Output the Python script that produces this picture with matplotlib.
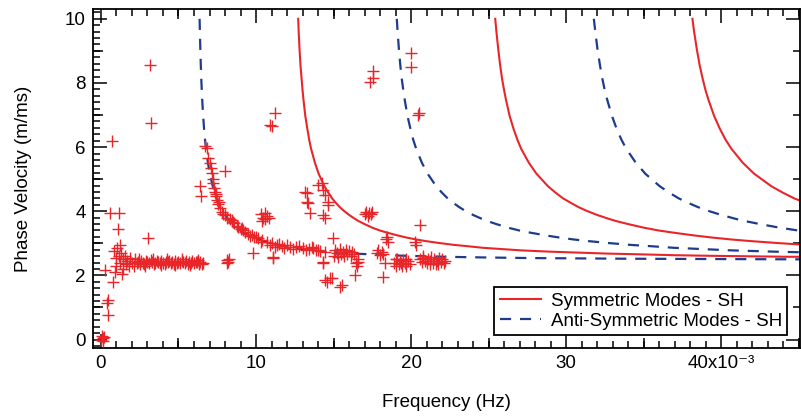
import numpy as np
import matplotlib
matplotlib.use("Agg")
import matplotlib.pyplot as plt
from matplotlib.ticker import MultipleLocator, FixedLocator, FuncFormatter, NullFormatter

plt.rcParams['font.family'] = ['Liberation Sans', 'DejaVu Sans']

# dispersion curves (frequency x1e-3, phase velocity m/ms)
anti1_f = [6.36, 6.38, 6.41, 6.44, 6.47, 6.50, 6.53, 6.59, 6.65, 6.71,
           6.78, 6.90, 7.02, 7.21, 7.33, 7.45, 7.58, 7.70, 7.82, 8.01,
           8.19, 8.32, 8.50, 8.75, 8.99, 9.24, 9.55, 9.86, 10.16, 10.47,
           10.90, 11.40, 11.83, 12.32, 12.94, 13.55, 14.48, 15.40, 16.32, 17.25,
           18.48, 19.71, 22.18, 24.64, 27.72, 33.88, 45.2]
anti1_v = [10.00, 9.62, 9.03, 8.54, 8.13, 7.78, 7.48, 6.97, 6.57, 6.23,
           5.95, 5.51, 5.17, 4.78, 4.58, 4.40, 4.26, 4.13, 4.02, 3.88,
           3.76, 3.69, 3.60, 3.49, 3.40, 3.33, 3.25, 3.18, 3.12, 3.07,
           3.01, 2.95, 2.91, 2.86, 2.82, 2.78, 2.74, 2.71, 2.68, 2.66,
           2.63, 2.61, 2.58, 2.56, 2.54, 2.52, 2.50]
sym2_f = [12.72, 12.75, 12.81, 12.87, 12.94, 13.00, 13.06, 13.18, 13.31, 13.43,
          13.55, 13.80, 14.04, 14.41, 14.66, 14.91, 15.15, 15.40, 15.65, 16.02,
          16.39, 16.63, 17.00, 17.49, 17.99, 18.48, 19.10, 19.71, 20.33, 20.94,
          21.81, 22.79, 23.65, 24.64, 25.87, 27.10, 28.95, 30.80, 32.65, 34.50,
          36.96, 39.42, 44.35, 45.2]
sym2_v = [10.00, 9.62, 9.03, 8.54, 8.13, 7.78, 7.48, 6.97, 6.57, 6.23,
          5.95, 5.51, 5.17, 4.78, 4.58, 4.40, 4.26, 4.13, 4.02, 3.88,
          3.76, 3.69, 3.60, 3.49, 3.40, 3.33, 3.25, 3.18, 3.12, 3.07,
          3.01, 2.95, 2.91, 2.86, 2.82, 2.78, 2.74, 2.71, 2.68, 2.66,
          2.63, 2.61, 2.58, 2.58]
anti3_f = [19.08, 19.13, 19.22, 19.31, 19.40, 19.50, 19.59, 19.77, 19.96, 20.14,
           20.33, 20.70, 21.07, 21.62, 21.99, 22.36, 22.73, 23.10, 23.47, 24.02,
           24.58, 24.95, 25.50, 26.24, 26.98, 27.72, 28.64, 29.57, 30.49, 31.42,
           32.71, 34.19, 35.48, 36.96, 38.81, 40.66, 43.43, 45.2]
anti3_v = [10.00, 9.62, 9.03, 8.54, 8.13, 7.78, 7.48, 6.97, 6.57, 6.23,
           5.95, 5.51, 5.17, 4.78, 4.58, 4.40, 4.26, 4.13, 4.02, 3.88,
           3.76, 3.69, 3.60, 3.49, 3.40, 3.33, 3.25, 3.18, 3.12, 3.07,
           3.01, 2.95, 2.91, 2.86, 2.82, 2.78, 2.74, 2.72]
sym4_f = [25.43, 25.50, 25.63, 25.75, 25.87, 26.00, 26.12, 26.36, 26.61, 26.86,
          27.10, 27.60, 28.09, 28.83, 29.32, 29.81, 30.31, 30.80, 31.29, 32.03,
          32.77, 33.26, 34.00, 34.99, 35.97, 36.96, 38.19, 39.42, 40.66, 41.89,
          43.61, 45.2]
sym4_v = [10.00, 9.62, 9.03, 8.54, 8.13, 7.78, 7.48, 6.97, 6.57, 6.23,
          5.95, 5.51, 5.17, 4.78, 4.58, 4.40, 4.26, 4.13, 4.02, 3.88,
          3.76, 3.69, 3.60, 3.49, 3.40, 3.33, 3.25, 3.18, 3.12, 3.07,
          3.01, 2.96]
anti5_f = [31.79, 31.88, 32.03, 32.19, 32.34, 32.49, 32.65, 32.96, 33.26, 33.57,
           33.88, 34.50, 35.11, 36.04, 36.65, 37.27, 37.88, 38.50, 39.12, 40.04,
           40.96, 41.58, 42.50, 43.74, 44.97, 45.2]
anti5_v = [10.00, 9.62, 9.03, 8.54, 8.13, 7.78, 7.48, 6.97, 6.57, 6.23,
           5.95, 5.51, 5.17, 4.78, 4.58, 4.40, 4.26, 4.13, 4.02, 3.88,
           3.76, 3.69, 3.60, 3.49, 3.40, 3.39]
sym6_f = [38.15, 38.25, 38.44, 38.62, 38.81, 38.99, 39.18, 39.55, 39.92, 40.29,
          40.66, 41.40, 42.13, 43.24, 43.98, 44.72, 45.2]
sym6_v = [10.00, 9.62, 9.03, 8.54, 8.13, 7.78, 7.48, 6.97, 6.57, 6.23,
          5.95, 5.51, 5.17, 4.78, 4.58, 4.40, 4.31]

# measured points (+)
low_pts = [(0.0, 0.0), (0.1, 0.05), (0.15, -0.05), (0.2, 0.08), (0.05, 0.1), (0.47, 0.76),
           (0.37, 1.13), (0.47, 1.23), (0.8, 1.8), (0.26, 2.17), (0.58, 3.94), (1.16, 3.94),
           (1.12, 3.44), (3.01, 3.16), (0.73, 6.2), (3.16, 8.56), (3.2, 6.75),
           (0.85, 2.75), (0.95, 2.55), (1.0, 2.3), (1.05, 2.85), (1.15, 2.6), (1.2, 2.95),
           (1.25, 2.4), (1.3, 2.7), (1.4, 2.5), (1.45, 2.2), (1.55, 2.6), (1.6, 2.35),
           (1.7, 2.45), (0.9, 2.1), (1.35, 2.05), (1.8, 2.3), (1.9, 2.55), (2.0, 2.4),
           (2.1, 2.3), (2.2, 2.5)]
band_pts = [(2.3, 2.38), (2.4, 2.42), (2.5, 2.35), (2.6, 2.45), (2.7, 2.40), (2.8, 2.36),
            (2.9, 2.44), (3.0, 2.41), (3.1, 2.39), (3.2, 2.47), (3.3, 2.43), (3.4, 2.37),
            (3.5, 2.40), (3.6, 2.45), (3.7, 2.42), (3.8, 2.38), (3.9, 2.44), (4.0, 2.40),
            (4.1, 2.36), (4.2, 2.43), (4.3, 2.41), (4.4, 2.46), (4.5, 2.39), (4.6, 2.42),
            (4.7, 2.37), (4.8, 2.44), (4.9, 2.40), (5.0, 2.43), (5.1, 2.38), (5.2, 2.45),
            (5.3, 2.41), (5.4, 2.39), (5.5, 2.44), (5.6, 2.36), (5.7, 2.42), (5.8, 2.40),
            (5.9, 2.45), (6.0, 2.38), (6.1, 2.43), (6.2, 2.41), (6.3, 2.37), (6.4, 2.42),
            (6.5, 2.35), (6.6, 2.40), (2.45, 2.5), (2.85, 2.3), (3.35, 2.5), (3.85, 2.32),
            (4.25, 2.5), (4.75, 2.32), (5.25, 2.5), (5.75, 2.33), (6.25, 2.48)]
mode_pts = [(6.7, 6.02), (6.82, 5.97), (6.93, 5.65), (7.03, 5.5), (7.14, 5.19), (7.2, 5.0),
            (7.25, 4.87), (7.3, 4.72), (7.35, 4.61), (7.4, 4.48), (7.46, 4.35), (7.55, 4.22),
            (7.68, 4.09), (7.8, 3.98), (8.0, 3.88), (8.15, 3.8), (8.3, 3.75), (8.43, 3.73),
            (8.6, 3.62), (8.75, 3.55), (8.86, 3.52), (9.0, 3.45), (9.15, 3.4), (9.29, 3.36),
            (9.5, 3.3), (9.72, 3.26), (9.9, 3.2), (10.15, 3.16), (10.4, 3.1), (10.69, 3.05),
            (11.0, 3.0), (11.34, 2.95), (11.7, 2.92), (12.19, 2.9), (12.6, 2.87), (13.05, 2.85),
            (13.4, 2.83), (13.7, 2.85), (14.0, 2.8), (7.1, 5.35), (7.45, 4.55), (7.6, 4.3),
            (7.9, 3.9), (8.5, 3.65), (9.1, 3.48), (9.6, 3.22), (10.0, 3.2), (10.3, 3.05),
            (10.9, 2.95), (11.2, 2.9), (11.5, 2.98), (11.8, 2.85), (12.0, 2.95), (12.4, 2.82),
            (12.8, 2.92), (13.2, 2.78), (13.6, 2.88), (13.9, 2.78)]
scatter_pts = [(8.0, 5.24), (6.39, 4.79), (6.43, 4.46), (9.83, 2.69), (11.1, 2.58), (11.1, 2.53),
               (8.1, 2.48), (8.2, 2.42), (8.25, 2.5), (8.15, 2.38),
               (10.3, 3.9), (10.45, 3.8), (10.55, 3.95), (10.6, 3.75), (10.7, 3.85), (10.85, 3.8),
               (10.4, 3.7), (10.9, 6.69), (11.0, 6.66), (11.23, 7.06),
               (13.16, 4.61), (13.27, 4.3), (13.48, 3.94), (14.0, 4.82), (14.24, 4.87), (14.35, 4.66),
               (14.45, 4.51), (13.27, 4.56), (14.67, 4.3), (14.67, 4.2), (14.45, 3.78), (14.34, 3.88),
               (13.38, 4.25), (17.57, 8.36), (17.35, 8.04), (17.57, 8.15), (20.0, 8.93), (20.0, 8.51),
               (20.47, 7.0), (20.5, 7.07), (17.0, 3.92), (17.1, 3.98), (17.2, 3.86), (17.3, 3.95),
               (17.4, 3.9), (17.5, 3.97), (20.58, 3.57), (18.43, 3.21), (18.5, 3.05), (18.4, 3.12),
               (20.26, 3.05), (20.3, 2.95), (14.99, 3.16)]
tail_pts = [(14.1, 2.75), (14.45, 2.74), (15.0, 2.62), (15.1, 2.78), (15.2, 2.7), (15.3, 2.58),
            (15.4, 2.82), (15.5, 2.66), (15.6, 2.74), (15.7, 2.6), (15.8, 2.8), (15.9, 2.68),
            (16.0, 2.75), (16.1, 2.62), (16.2, 2.72), (16.3, 2.66), (16.6, 2.43), (16.5, 2.3),
            (16.55, 2.5), (16.45, 2.38), (17.8, 2.7), (17.9, 2.78), (18.0, 2.65), (18.1, 2.74),
            (18.2, 2.68), (14.3, 2.38), (14.34, 2.43), (14.77, 1.91), (14.56, 1.8), (14.45, 1.86),
            (14.88, 1.91), (15.42, 1.63), (15.53, 1.7), (16.39, 2.01), (18.21, 1.94), (18.32, 2.38),
            (18.9, 2.4), (19.0, 2.3), (19.1, 2.5), (19.2, 2.35), (19.3, 2.45), (19.4, 2.3),
            (19.5, 2.48), (19.6, 2.38), (19.7, 2.28), (19.8, 2.45), (19.9, 2.36), (19.0, 2.52),
            (19.35, 2.38), (19.65, 2.5), (20.6, 2.5), (20.7, 2.42), (20.8, 2.55), (20.9, 2.45),
            (21.0, 2.38), (21.1, 2.52), (21.2, 2.44), (21.3, 2.58), (21.4, 2.4), (21.5, 2.5),
            (21.6, 2.36), (21.7, 2.46), (21.8, 2.55), (21.9, 2.42), (22.0, 2.5), (22.1, 2.4),
            (22.2, 2.46), (20.75, 2.62), (21.25, 2.35), (21.75, 2.36)]

red = '#e8262a'
blue = '#1f3c8c'

fig = plt.figure(figsize=(8.01, 4.18), dpi=100)
ax = fig.add_axes([0.116, 0.167, 0.883, 0.811])

pts = np.array(low_pts + band_pts + mode_pts + scatter_pts + tail_pts)
ax.plot(pts[:, 0], pts[:, 1], '+', color=red, markersize=8, mew=1.0, zorder=3)

ax.plot(sym2_f, sym2_v, '-', color=red, lw=1.5, label='Symmetric Modes - SH')
ax.plot(sym4_f, sym4_v, '-', color=red, lw=1.5)
ax.plot(sym6_f, sym6_v, '-', color=red, lw=1.5)
ax.plot(anti1_f, anti1_v, '--', color=blue, lw=1.6, dashes=(5, 4), label='Anti-Symmetric Modes - SH')
ax.plot(anti3_f, anti3_v, '--', color=blue, lw=1.6, dashes=(5, 4))
ax.plot(anti5_f, anti5_v, '--', color=blue, lw=1.6, dashes=(5, 4))

ax.set_xlim(-0.52, 45.1)
ax.set_ylim(-0.27, 10.3)

ax.xaxis.set_major_locator(MultipleLocator(10))
ax.xaxis.set_minor_locator(MultipleLocator(1))
ax.yaxis.set_major_locator(MultipleLocator(2))
ax.yaxis.set_minor_locator(MultipleLocator(0.2))
ax.xaxis.set_major_formatter(FuncFormatter(
    lambda v, p: '40x10\u207b\u00b3' if abs(v - 40) < 1e-6 else '%d' % v))
ax.tick_params(which='both', direction='in', top=True, right=False, labelsize=13.5, width=1.1)
ax.tick_params(which='major', length=10, pad=5)
ax.tick_params(which='minor', length=5)
for s in ax.spines.values():
    s.set_linewidth(1.3)

# medium ticks
for side in ('bottom', 'top'):
    sec = ax.secondary_xaxis(side)
    sec.xaxis.set_major_locator(FixedLocator([5, 15, 25, 35, 45]))
    sec.xaxis.set_major_formatter(NullFormatter())
    sec.tick_params(direction='in', length=7.5, width=1.1)
    sec.spines[side].set_visible(False)
sec = ax.secondary_yaxis('left')
sec.yaxis.set_major_locator(FixedLocator([1, 3, 5, 7, 9]))
sec.yaxis.set_major_formatter(NullFormatter())
sec.tick_params(direction='in', length=7.5, width=1.1)
sec.spines['left'].set_visible(False)
sec = ax.secondary_yaxis('right')
sec.yaxis.set_major_locator(MultipleLocator(2))
sec.yaxis.set_minor_locator(MultipleLocator(1))
sec.yaxis.set_major_formatter(NullFormatter())
sec.tick_params(which='major', direction='in', length=10, width=1.1)
sec.tick_params(which='minor', direction='in', length=5, width=1.1)
sec.spines['right'].set_visible(False)

ax.set_xlabel('Frequency (Hz)', fontsize=13.5, labelpad=16)
ax.set_ylabel('Phase Velocity (m/ms)', fontsize=13.5, labelpad=24)

leg = ax.legend(loc='lower right', bbox_to_anchor=(0.982, 0.038), fontsize=13.5,
                fancybox=False, framealpha=1, edgecolor='black', borderpad=0.3,
                handlelength=2.2, labelspacing=0.15, handletextpad=0.5, borderaxespad=0)
leg.get_frame().set_linewidth(1.3)

fig.savefig('out.png', dpi=100)
